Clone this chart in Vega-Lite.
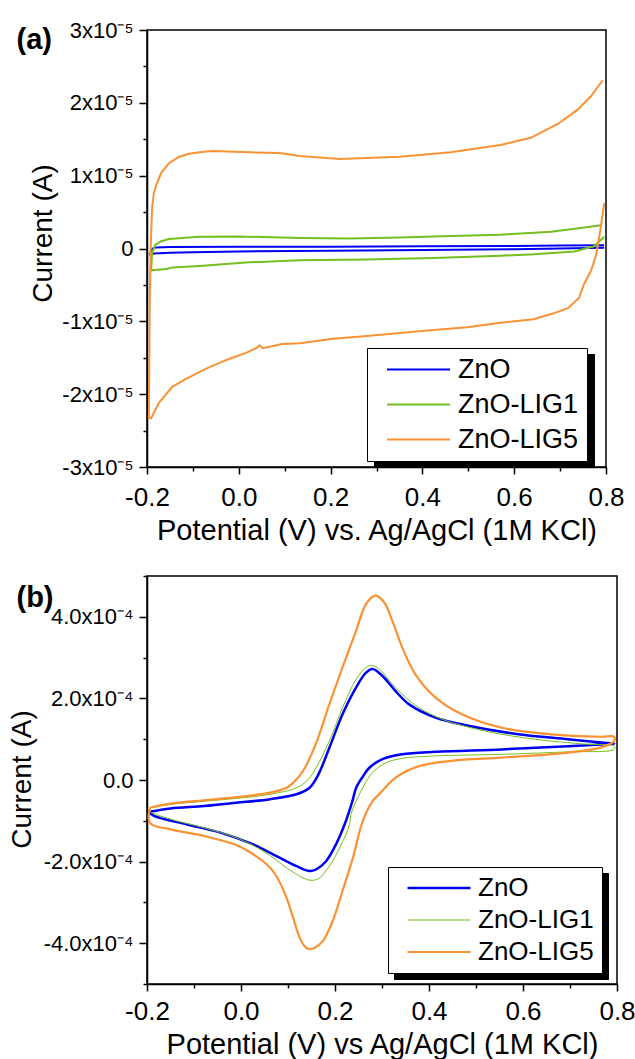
{
  "$schema": "https://vega.github.io/schema/vega-lite/v6.json",
  "background": "white",
  "padding": {"left": 7, "top": 18, "right": 0, "bottom": 0},
  "bounds": "flush",
  "spacing": 109,
  "datasets": {
    "panelA": [
      {"series": "ZnO", "n": 1, "potential": 0.796, "current": 1.0e-7},
      {"series": "ZnO", "n": 2, "potential": 0.7, "current": 0},
      {"series": "ZnO", "n": 3, "potential": 0.6, "current": -1.0e-7},
      {"series": "ZnO", "n": 4, "potential": 0.4, "current": -2.0e-7},
      {"series": "ZnO", "n": 5, "potential": 0.2, "current": -3.0e-7},
      {"series": "ZnO", "n": 6, "potential": 0.0, "current": -4.0e-7},
      {"series": "ZnO", "n": 7, "potential": -0.1, "current": -5.0e-7},
      {"series": "ZnO", "n": 8, "potential": -0.15, "current": -6.0e-7},
      {"series": "ZnO", "n": 9, "potential": -0.185, "current": -7.0e-7},
      {"series": "ZnO", "n": 10, "potential": -0.193, "current": -8.0e-7},
      {"series": "ZnO", "n": 11, "potential": -0.191, "current": -3.0e-7},
      {"series": "ZnO", "n": 12, "potential": -0.188, "current": 0},
      {"series": "ZnO", "n": 13, "potential": -0.18, "current": 1.5e-7},
      {"series": "ZnO", "n": 14, "potential": -0.15, "current": 2.0e-7},
      {"series": "ZnO", "n": 15, "potential": 0.0, "current": 2.5e-7},
      {"series": "ZnO", "n": 16, "potential": 0.2, "current": 2.5e-7},
      {"series": "ZnO", "n": 17, "potential": 0.4, "current": 3.0e-7},
      {"series": "ZnO", "n": 18, "potential": 0.6, "current": 3.5e-7},
      {"series": "ZnO", "n": 19, "potential": 0.7, "current": 4.0e-7},
      {"series": "ZnO", "n": 20, "potential": 0.796, "current": 4.5e-7},

      {"series": "ZnO-LIG1", "n": 1, "potential": 0.796, "current": 1.6e-6},
      {"series": "ZnO-LIG1", "n": 2, "potential": 0.774, "current": 3.0e-7},
      {"series": "ZnO-LIG1", "n": 3, "potential": 0.731, "current": -4.0e-7},
      {"series": "ZnO-LIG1", "n": 4, "potential": 0.643, "current": -8.0e-7},
      {"series": "ZnO-LIG1", "n": 5, "potential": 0.57, "current": -1.0e-6},
      {"series": "ZnO-LIG1", "n": 6, "potential": 0.424, "current": -1.3e-6},
      {"series": "ZnO-LIG1", "n": 7, "potential": 0.279, "current": -1.5e-6},
      {"series": "ZnO-LIG1", "n": 8, "potential": 0.133, "current": -1.6e-6},
      {"series": "ZnO-LIG1", "n": 9, "potential": 0.023, "current": -1.9e-6},
      {"series": "ZnO-LIG1", "n": 10, "potential": -0.086, "current": -2.4e-6},
      {"series": "ZnO-LIG1", "n": 11, "potential": -0.145, "current": -2.6e-6},
      {"series": "ZnO-LIG1", "n": 12, "potential": -0.158, "current": -2.8e-6},
      {"series": "ZnO-LIG1", "n": 13, "potential": -0.191, "current": -3.0e-6},
      {"series": "ZnO-LIG1", "n": 14, "potential": -0.189, "current": -6.0e-7},
      {"series": "ZnO-LIG1", "n": 15, "potential": -0.182, "current": 5.0e-7},
      {"series": "ZnO-LIG1", "n": 16, "potential": -0.169, "current": 1.0e-6},
      {"series": "ZnO-LIG1", "n": 17, "potential": -0.152, "current": 1.3e-6},
      {"series": "ZnO-LIG1", "n": 18, "potential": -0.086, "current": 1.6e-6},
      {"series": "ZnO-LIG1", "n": 19, "potential": 0.001, "current": 1.65e-6},
      {"series": "ZnO-LIG1", "n": 20, "potential": 0.133, "current": 1.45e-6},
      {"series": "ZnO-LIG1", "n": 21, "potential": 0.242, "current": 1.37e-6},
      {"series": "ZnO-LIG1", "n": 22, "potential": 0.351, "current": 1.5e-6},
      {"series": "ZnO-LIG1", "n": 23, "potential": 0.461, "current": 1.7e-6},
      {"series": "ZnO-LIG1", "n": 24, "potential": 0.57, "current": 1.9e-6},
      {"series": "ZnO-LIG1", "n": 25, "potential": 0.68, "current": 2.3e-6},
      {"series": "ZnO-LIG1", "n": 26, "potential": 0.745, "current": 2.8e-6},
      {"series": "ZnO-LIG1", "n": 27, "potential": 0.789, "current": 3.2e-6},

      {"series": "ZnO-LIG5", "n": 1, "potential": 0.796, "current": 6.2e-6},
      {"series": "ZnO-LIG5", "n": 2, "potential": 0.789, "current": 3.1e-6},
      {"series": "ZnO-LIG5", "n": 3, "potential": 0.782, "current": 3.0e-7},
      {"series": "ZnO-LIG5", "n": 4, "potential": 0.778, "current": -1.0e-6},
      {"series": "ZnO-LIG5", "n": 5, "potential": 0.767, "current": -3.1e-6},
      {"series": "ZnO-LIG5", "n": 6, "potential": 0.752, "current": -4.9e-6},
      {"series": "ZnO-LIG5", "n": 7, "potential": 0.741, "current": -6.8e-6},
      {"series": "ZnO-LIG5", "n": 8, "potential": 0.717, "current": -8.2e-6},
      {"series": "ZnO-LIG5", "n": 9, "potential": 0.686, "current": -8.9e-6},
      {"series": "ZnO-LIG5", "n": 10, "potential": 0.642, "current": -9.7e-6},
      {"series": "ZnO-LIG5", "n": 11, "potential": 0.57, "current": -1.02e-5},
      {"series": "ZnO-LIG5", "n": 12, "potential": 0.498, "current": -1.08e-5},
      {"series": "ZnO-LIG5", "n": 13, "potential": 0.424, "current": -1.12e-5},
      {"series": "ZnO-LIG5", "n": 14, "potential": 0.351, "current": -1.16e-5},
      {"series": "ZnO-LIG5", "n": 15, "potential": 0.279, "current": -1.2e-5},
      {"series": "ZnO-LIG5", "n": 16, "potential": 0.205, "current": -1.24e-5},
      {"series": "ZnO-LIG5", "n": 17, "potential": 0.133, "current": -1.3e-5},
      {"series": "ZnO-LIG5", "n": 18, "potential": 0.095, "current": -1.31e-5},
      {"series": "ZnO-LIG5", "n": 19, "potential": 0.052, "current": -1.37e-5},
      {"series": "ZnO-LIG5", "n": 20, "potential": 0.045, "current": -1.33e-5},
      {"series": "ZnO-LIG5", "n": 21, "potential": 0.04, "current": -1.36e-5},
      {"series": "ZnO-LIG5", "n": 22, "potential": 0.017, "current": -1.43e-5},
      {"series": "ZnO-LIG5", "n": 23, "potential": -0.027, "current": -1.53e-5},
      {"series": "ZnO-LIG5", "n": 24, "potential": -0.071, "current": -1.65e-5},
      {"series": "ZnO-LIG5", "n": 25, "potential": -0.115, "current": -1.79e-5},
      {"series": "ZnO-LIG5", "n": 26, "potential": -0.145, "current": -1.9e-5},
      {"series": "ZnO-LIG5", "n": 27, "potential": -0.174, "current": -2.12e-5},
      {"series": "ZnO-LIG5", "n": 28, "potential": -0.191, "current": -2.33e-5},
      {"series": "ZnO-LIG5", "n": 29, "potential": -0.196, "current": -2.33e-5},
      {"series": "ZnO-LIG5", "n": 30, "potential": -0.194, "current": -7.2e-6},
      {"series": "ZnO-LIG5", "n": 31, "potential": -0.192, "current": 0},
      {"series": "ZnO-LIG5", "n": 32, "potential": -0.189, "current": 5.6e-6},
      {"series": "ZnO-LIG5", "n": 33, "potential": -0.185, "current": 7.6e-6},
      {"series": "ZnO-LIG5", "n": 34, "potential": -0.18, "current": 8.7e-6},
      {"series": "ZnO-LIG5", "n": 35, "potential": -0.169, "current": 1.04e-5},
      {"series": "ZnO-LIG5", "n": 36, "potential": -0.152, "current": 1.17e-5},
      {"series": "ZnO-LIG5", "n": 37, "potential": -0.13, "current": 1.26e-5},
      {"series": "ZnO-LIG5", "n": 38, "potential": -0.108, "current": 1.3e-5},
      {"series": "ZnO-LIG5", "n": 39, "potential": -0.086, "current": 1.32e-5},
      {"series": "ZnO-LIG5", "n": 40, "potential": -0.058, "current": 1.34e-5},
      {"series": "ZnO-LIG5", "n": 41, "potential": 0.023, "current": 1.32e-5},
      {"series": "ZnO-LIG5", "n": 42, "potential": 0.089, "current": 1.31e-5},
      {"series": "ZnO-LIG5", "n": 43, "potential": 0.133, "current": 1.27e-5},
      {"series": "ZnO-LIG5", "n": 44, "potential": 0.22, "current": 1.23e-5},
      {"series": "ZnO-LIG5", "n": 45, "potential": 0.351, "current": 1.26e-5},
      {"series": "ZnO-LIG5", "n": 46, "potential": 0.461, "current": 1.32e-5},
      {"series": "ZnO-LIG5", "n": 47, "potential": 0.57, "current": 1.42e-5},
      {"series": "ZnO-LIG5", "n": 48, "potential": 0.636, "current": 1.52e-5},
      {"series": "ZnO-LIG5", "n": 49, "potential": 0.695, "current": 1.71e-5},
      {"series": "ZnO-LIG5", "n": 50, "potential": 0.739, "current": 1.91e-5},
      {"series": "ZnO-LIG5", "n": 51, "potential": 0.767, "current": 2.09e-5},
      {"series": "ZnO-LIG5", "n": 52, "potential": 0.793, "current": 2.31e-5}
    ],
    "panelB": [
      {"series": "ZnO", "n": 1, "potential": -0.194, "current": -7.8e-5},
      {"series": "ZnO", "n": 2, "potential": -0.15, "current": -7.0e-5},
      {"series": "ZnO", "n": 3, "potential": -0.079, "current": -6.4e-5},
      {"series": "ZnO", "n": 4, "potential": -0.01, "current": -5.6e-5},
      {"series": "ZnO", "n": 5, "potential": 0.062, "current": -4.7e-5},
      {"series": "ZnO", "n": 6, "potential": 0.118, "current": -3.5e-5},
      {"series": "ZnO", "n": 7, "potential": 0.146, "current": -1.9e-5},
      {"series": "ZnO", "n": 8, "potential": 0.164, "current": 1.2e-5},
      {"series": "ZnO", "n": 9, "potential": 0.188, "current": 7.9e-5},
      {"series": "ZnO", "n": 10, "potential": 0.216, "current": 1.61e-4},
      {"series": "ZnO", "n": 11, "potential": 0.245, "current": 2.27e-4},
      {"series": "ZnO", "n": 12, "potential": 0.266, "current": 2.63e-4},
      {"series": "ZnO", "n": 13, "potential": 0.28, "current": 2.72e-4},
      {"series": "ZnO", "n": 14, "potential": 0.301, "current": 2.55e-4},
      {"series": "ZnO", "n": 15, "potential": 0.329, "current": 2.18e-4},
      {"series": "ZnO", "n": 16, "potential": 0.357, "current": 1.86e-4},
      {"series": "ZnO", "n": 17, "potential": 0.414, "current": 1.53e-4},
      {"series": "ZnO", "n": 18, "potential": 0.484, "current": 1.33e-4},
      {"series": "ZnO", "n": 19, "potential": 0.59, "current": 1.12e-4},
      {"series": "ZnO", "n": 20, "potential": 0.696, "current": 1.0e-4},
      {"series": "ZnO", "n": 21, "potential": 0.766, "current": 9.2e-5},
      {"series": "ZnO", "n": 22, "potential": 0.794, "current": 8.9e-5},
      {"series": "ZnO", "n": 23, "potential": 0.766, "current": 8.7e-5},
      {"series": "ZnO", "n": 24, "potential": 0.696, "current": 8.3e-5},
      {"series": "ZnO", "n": 25, "potential": 0.555, "current": 7.5e-5},
      {"series": "ZnO", "n": 26, "potential": 0.414, "current": 6.9e-5},
      {"series": "ZnO", "n": 27, "potential": 0.343, "current": 6.3e-5},
      {"series": "ZnO", "n": 28, "potential": 0.301, "current": 5.1e-5},
      {"series": "ZnO", "n": 29, "potential": 0.273, "current": 3.0e-5},
      {"series": "ZnO", "n": 30, "potential": 0.259, "current": 8.0e-6},
      {"series": "ZnO", "n": 31, "potential": 0.245, "current": -1.9e-5},
      {"series": "ZnO", "n": 32, "potential": 0.237, "current": -5.2e-5},
      {"series": "ZnO", "n": 33, "potential": 0.223, "current": -1.01e-4},
      {"series": "ZnO", "n": 34, "potential": 0.202, "current": -1.58e-4},
      {"series": "ZnO", "n": 35, "potential": 0.181, "current": -1.99e-4},
      {"series": "ZnO", "n": 36, "potential": 0.16, "current": -2.19e-4},
      {"series": "ZnO", "n": 37, "potential": 0.146, "current": -2.23e-4},
      {"series": "ZnO", "n": 38, "potential": 0.118, "current": -2.11e-4},
      {"series": "ZnO", "n": 39, "potential": 0.083, "current": -1.91e-4},
      {"series": "ZnO", "n": 40, "potential": 0.026, "current": -1.58e-4},
      {"series": "ZnO", "n": 41, "potential": -0.044, "current": -1.29e-4},
      {"series": "ZnO", "n": 42, "potential": -0.115, "current": -1.09e-4},
      {"series": "ZnO", "n": 43, "potential": -0.185, "current": -8.8e-5},
      {"series": "ZnO", "n": 44, "potential": -0.194, "current": -8.0e-5},
      {"series": "ZnO", "n": 45, "potential": -0.194, "current": -7.8e-5},

      {"series": "ZnO-LIG1", "n": 1, "potential": -0.194, "current": -6.8e-5},
      {"series": "ZnO-LIG1", "n": 2, "potential": -0.15, "current": -6.0e-5},
      {"series": "ZnO-LIG1", "n": 3, "potential": -0.079, "current": -5.2e-5},
      {"series": "ZnO-LIG1", "n": 4, "potential": -0.009, "current": -4.5e-5},
      {"series": "ZnO-LIG1", "n": 5, "potential": 0.062, "current": -3.5e-5},
      {"series": "ZnO-LIG1", "n": 6, "potential": 0.118, "current": -1.9e-5},
      {"series": "ZnO-LIG1", "n": 7, "potential": 0.142, "current": 0},
      {"series": "ZnO-LIG1", "n": 8, "potential": 0.16, "current": 3.0e-5},
      {"series": "ZnO-LIG1", "n": 9, "potential": 0.188, "current": 9.6e-5},
      {"series": "ZnO-LIG1", "n": 10, "potential": 0.216, "current": 1.77e-4},
      {"series": "ZnO-LIG1", "n": 11, "potential": 0.245, "current": 2.47e-4},
      {"series": "ZnO-LIG1", "n": 12, "potential": 0.266, "current": 2.76e-4},
      {"series": "ZnO-LIG1", "n": 13, "potential": 0.276, "current": 2.81e-4},
      {"series": "ZnO-LIG1", "n": 14, "potential": 0.294, "current": 2.72e-4},
      {"series": "ZnO-LIG1", "n": 15, "potential": 0.322, "current": 2.35e-4},
      {"series": "ZnO-LIG1", "n": 16, "potential": 0.343, "current": 2.1e-4},
      {"series": "ZnO-LIG1", "n": 17, "potential": 0.379, "current": 1.77e-4},
      {"series": "ZnO-LIG1", "n": 18, "potential": 0.428, "current": 1.49e-4},
      {"series": "ZnO-LIG1", "n": 19, "potential": 0.519, "current": 1.2e-4},
      {"series": "ZnO-LIG1", "n": 20, "potential": 0.625, "current": 1.0e-4},
      {"series": "ZnO-LIG1", "n": 21, "potential": 0.731, "current": 8.8e-5},
      {"series": "ZnO-LIG1", "n": 22, "potential": 0.794, "current": 8.3e-5},
      {"series": "ZnO-LIG1", "n": 23, "potential": 0.794, "current": 7.5e-5},
      {"series": "ZnO-LIG1", "n": 24, "potential": 0.696, "current": 6.9e-5},
      {"series": "ZnO-LIG1", "n": 25, "potential": 0.555, "current": 6.3e-5},
      {"series": "ZnO-LIG1", "n": 26, "potential": 0.414, "current": 5.9e-5},
      {"series": "ZnO-LIG1", "n": 27, "potential": 0.343, "current": 5.3e-5},
      {"series": "ZnO-LIG1", "n": 28, "potential": 0.308, "current": 4.2e-5},
      {"series": "ZnO-LIG1", "n": 29, "potential": 0.28, "current": 1.8e-5},
      {"series": "ZnO-LIG1", "n": 30, "potential": 0.259, "current": -1.9e-5},
      {"series": "ZnO-LIG1", "n": 31, "potential": 0.234, "current": -8.4e-5},
      {"series": "ZnO-LIG1", "n": 32, "potential": 0.231, "current": -1.09e-4},
      {"series": "ZnO-LIG1", "n": 33, "potential": 0.21, "current": -1.66e-4},
      {"series": "ZnO-LIG1", "n": 34, "potential": 0.188, "current": -2.11e-4},
      {"series": "ZnO-LIG1", "n": 35, "potential": 0.167, "current": -2.4e-4},
      {"series": "ZnO-LIG1", "n": 36, "potential": 0.151, "current": -2.46e-4},
      {"series": "ZnO-LIG1", "n": 37, "potential": 0.132, "current": -2.4e-4},
      {"series": "ZnO-LIG1", "n": 38, "potential": 0.097, "current": -2.15e-4},
      {"series": "ZnO-LIG1", "n": 39, "potential": 0.047, "current": -1.74e-4},
      {"series": "ZnO-LIG1", "n": 40, "potential": -0.009, "current": -1.42e-4},
      {"series": "ZnO-LIG1", "n": 41, "potential": -0.079, "current": -1.17e-4},
      {"series": "ZnO-LIG1", "n": 42, "potential": -0.15, "current": -9.6e-5},
      {"series": "ZnO-LIG1", "n": 43, "potential": -0.194, "current": -7.6e-5},
      {"series": "ZnO-LIG1", "n": 44, "potential": -0.194, "current": -6.8e-5},

      {"series": "ZnO-LIG5", "n": 1, "potential": -0.194, "current": -6.8e-5},
      {"series": "ZnO-LIG5", "n": 2, "potential": -0.15, "current": -5.8e-5},
      {"series": "ZnO-LIG5", "n": 3, "potential": -0.079, "current": -5.0e-5},
      {"series": "ZnO-LIG5", "n": 4, "potential": -0.009, "current": -4.2e-5},
      {"series": "ZnO-LIG5", "n": 5, "potential": 0.062, "current": -3.1e-5},
      {"series": "ZnO-LIG5", "n": 6, "potential": 0.097, "current": -1.9e-5},
      {"series": "ZnO-LIG5", "n": 7, "potential": 0.111, "current": -7.0e-6},
      {"series": "ZnO-LIG5", "n": 8, "potential": 0.132, "current": 2.2e-5},
      {"series": "ZnO-LIG5", "n": 9, "potential": 0.16, "current": 9.1e-5},
      {"series": "ZnO-LIG5", "n": 10, "potential": 0.188, "current": 1.86e-4},
      {"series": "ZnO-LIG5", "n": 11, "potential": 0.216, "current": 2.76e-4},
      {"series": "ZnO-LIG5", "n": 12, "potential": 0.245, "current": 3.66e-4},
      {"series": "ZnO-LIG5", "n": 13, "potential": 0.266, "current": 4.31e-4},
      {"series": "ZnO-LIG5", "n": 14, "potential": 0.286, "current": 4.52e-4},
      {"series": "ZnO-LIG5", "n": 15, "potential": 0.305, "current": 4.35e-4},
      {"series": "ZnO-LIG5", "n": 16, "potential": 0.322, "current": 3.9e-4},
      {"series": "ZnO-LIG5", "n": 17, "potential": 0.343, "current": 3.25e-4},
      {"series": "ZnO-LIG5", "n": 18, "potential": 0.371, "current": 2.59e-4},
      {"series": "ZnO-LIG5", "n": 19, "potential": 0.414, "current": 2.02e-4},
      {"series": "ZnO-LIG5", "n": 20, "potential": 0.47, "current": 1.61e-4},
      {"series": "ZnO-LIG5", "n": 21, "potential": 0.555, "current": 1.28e-4},
      {"series": "ZnO-LIG5", "n": 22, "potential": 0.66, "current": 1.12e-4},
      {"series": "ZnO-LIG5", "n": 23, "potential": 0.766, "current": 1.06e-4},
      {"series": "ZnO-LIG5", "n": 24, "potential": 0.794, "current": 1.06e-4},
      {"series": "ZnO-LIG5", "n": 25, "potential": 0.794, "current": 9.6e-5},
      {"series": "ZnO-LIG5", "n": 26, "potential": 0.766, "current": 8.0e-5},
      {"series": "ZnO-LIG5", "n": 27, "potential": 0.696, "current": 6.7e-5},
      {"series": "ZnO-LIG5", "n": 28, "potential": 0.555, "current": 5.5e-5},
      {"series": "ZnO-LIG5", "n": 29, "potential": 0.449, "current": 4.7e-5},
      {"series": "ZnO-LIG5", "n": 30, "potential": 0.379, "current": 3.4e-5},
      {"series": "ZnO-LIG5", "n": 31, "potential": 0.329, "current": 6.0e-6},
      {"series": "ZnO-LIG5", "n": 32, "potential": 0.294, "current": -3.5e-5},
      {"series": "ZnO-LIG5", "n": 33, "potential": 0.28, "current": -5.2e-5},
      {"series": "ZnO-LIG5", "n": 34, "potential": 0.259, "current": -1.01e-4},
      {"series": "ZnO-LIG5", "n": 35, "potential": 0.238, "current": -1.91e-4},
      {"series": "ZnO-LIG5", "n": 36, "potential": 0.216, "current": -2.72e-4},
      {"series": "ZnO-LIG5", "n": 37, "potential": 0.195, "current": -3.46e-4},
      {"series": "ZnO-LIG5", "n": 38, "potential": 0.174, "current": -3.95e-4},
      {"series": "ZnO-LIG5", "n": 39, "potential": 0.157, "current": -4.11e-4},
      {"series": "ZnO-LIG5", "n": 40, "potential": 0.144, "current": -4.14e-4},
      {"series": "ZnO-LIG5", "n": 41, "potential": 0.136, "current": -4.08e-4},
      {"series": "ZnO-LIG5", "n": 42, "potential": 0.125, "current": -3.87e-4},
      {"series": "ZnO-LIG5", "n": 43, "potential": 0.111, "current": -3.38e-4},
      {"series": "ZnO-LIG5", "n": 44, "potential": 0.097, "current": -2.89e-4},
      {"series": "ZnO-LIG5", "n": 45, "potential": 0.08, "current": -2.45e-4},
      {"series": "ZnO-LIG5", "n": 46, "potential": 0.062, "current": -2.15e-4},
      {"series": "ZnO-LIG5", "n": 47, "potential": 0.026, "current": -1.82e-4},
      {"series": "ZnO-LIG5", "n": 48, "potential": -0.009, "current": -1.6e-4},
      {"series": "ZnO-LIG5", "n": 49, "potential": -0.079, "current": -1.37e-4},
      {"series": "ZnO-LIG5", "n": 50, "potential": -0.15, "current": -1.21e-4},
      {"series": "ZnO-LIG5", "n": 51, "potential": -0.194, "current": -1.05e-4},
      {"series": "ZnO-LIG5", "n": 52, "potential": -0.194, "current": -6.8e-5}
    ]
  },
  "config": {
    "font": "Liberation Sans",
    "view": {"stroke": "black", "strokeWidth": 1.5},
    "axis": {
      "grid": false,
      "domainColor": "black",
      "domainWidth": 1.5,
      "tickColor": "black",
      "tickWidth": 1.5,
      "labelColor": "black",
      "titleColor": "black",
      "labelFont": "Liberation Sans",
      "titleFont": "Liberation Sans",
      "titleFontWeight": "normal",
      "labelFlush": false,
      "labelOverlap": false
    }
  },
  "resolve": {
    "scale": {"color": "independent", "strokeDash": "independent", "strokeWidth": "independent"},
    "legend": {"color": "independent", "strokeDash": "independent", "strokeWidth": "independent"}
  },
  "vconcat": [
    {
      "width": 459,
      "height": 437,
      "data": {"name": "panelA"},
      "layer": [
        {
          "mark": {"type": "line", "strokeWidth": 2, "interpolate": "linear"},
          "encoding": {
            "x": {
              "field": "potential", "type": "quantitative",
              "scale": {"domain": [-0.2, 0.8], "nice": false, "zero": false},
              "axis": {
                "orient": "bottom",
                "values": [-0.2, 0, 0.2, 0.4, 0.6, 0.8],
                "labelExpr": "(datum.value < 0 ? '-' : '') + format(abs(datum.value), '.1f')",
                "labelFontSize": 26, "tickSize": 7, "labelPadding": 10,
                "title": "Potential (V) vs. Ag/AgCl (1M KCl)",
                "titleFontSize": 29, "titleY": 72, "titleBaseline": "alphabetic"
              }
            },
            "y": {
              "field": "current", "type": "quantitative",
              "scale": {"domain": [-3e-5, 3e-5], "nice": false, "zero": false},
              "axis": {
                "orient": "left",
                "values": [-3e-5, -2e-5, -1e-5, 0, 1e-5, 2e-5, 3e-5],
                "labelExpr": "datum.value == 0 ? '0' : (datum.value < 0 ? '-' : '') + format(abs(round(datum.value * 1e5)), 'd') + 'x10⁻⁵'",
                "labelFontSize": 22, "tickSize": 8, "labelPadding": 6,
                "title": "Current (A)",
                "titleFontSize": 28, "titleAngle": 270, "titleX": -104, "titleY": 203,
                "titleBaseline": "middle", "titleAlign": "center"
              }
            },
            "color": {
              "field": "series", "type": "nominal",
              "scale": {"domain": ["ZnO", "ZnO-LIG1", "ZnO-LIG5"], "range": ["#0000F5", "#74BF1C", "#FA9133"]},
              "legend": {
                "orient": "none", "legendX": 220, "legendY": 318, "title": null,
                "symbolType": "M-3,0H3", "symbolSize": 441, "symbolStrokeWidth": 2,
                "symbolOffset": 30, "labelOffset": 26,
                "labelFont": "Liberation Sans", "labelFontSize": 27, "labelColor": "black",
                "padding": 8, "rowPadding": 7,
                "fillColor": "white", "strokeColor": "black", "zindex": 3, "labelLimit": 400
              }
            },
            "order": {"field": "n", "type": "quantitative"}
          }
        },
        {
          "mark": {"type": "line", "strokeWidth": 2, "opacity": 0},
          "encoding": {
            "x": {
              "field": "potential", "type": "quantitative",
              "scale": {"domain": [-0.2, 0.8], "nice": false, "zero": false},
              "axis": {"orient": "bottom", "values": [-0.1, 0.1, 0.3, 0.5, 0.7], "tickSize": 4, "labels": false, "domain": false, "title": null}
            },
            "y": {
              "field": "current", "type": "quantitative",
              "scale": {"domain": [-3e-5, 3e-5], "nice": false, "zero": false},
              "axis": {
                "orient": "left", "values": [-2.5e-5, -1.5e-5, -0.5e-5, 0.5e-5, 1.5e-5, 2.5e-5],
                "tickSize": 4, "labels": false, "domain": false,
                "title": "(a)", "titleAngle": 0, "titleAlign": "left", "titleBaseline": "alphabetic",
                "titleX": -131, "titleY": 18, "titleFontSize": 29, "titleFontWeight": "bold"
              }
            },
            "strokeDash": {
              "field": "series", "type": "nominal",
              "scale": {"range": [[1, 0], [1, 0], [1, 0]]},
              "legend": {
                "orient": "none", "legendX": 227, "legendY": 324, "title": null,
                "values": ["ZnO", "ZnO-LIG1", "ZnO-LIG5"],
                "symbolType": "M-3,0H3", "symbolSize": 441, "symbolStrokeWidth": 2, "symbolStrokeColor": "black",
                "symbolOffset": 30, "labelOffset": 26,
                "labelFont": "Liberation Sans", "labelFontSize": 27, "labelColor": "black", "labelOpacity": 0,
                "padding": 8, "rowPadding": 7,
                "fillColor": "black", "strokeColor": "black", "zindex": 2, "labelLimit": 400
              }
            },
            "order": {"field": "n", "type": "quantitative"}
          }
        }
      ],
      "resolve": {"axis": {"x": "independent", "y": "independent"}}
    },
    {
      "width": 470,
      "height": 408,
      "data": {"name": "panelB"},
      "layer": [
        {
          "mark": {"type": "line", "interpolate": "catmull-rom"},
          "encoding": {
            "x": {
              "field": "potential", "type": "quantitative",
              "scale": {"domain": [-0.2, 0.8], "nice": false, "zero": false},
              "axis": {
                "orient": "bottom",
                "values": [-0.2, 0, 0.2, 0.4, 0.6, 0.8],
                "labelExpr": "(datum.value < 0 ? '-' : '') + format(abs(datum.value), '.1f')",
                "labelFontSize": 26, "tickSize": 7, "labelPadding": 7,
                "title": "Potential (V) vs Ag/AgCl (1M KCl)",
                "titleFontSize": 29, "titleY": 69, "titleBaseline": "alphabetic"
              }
            },
            "y": {
              "field": "current", "type": "quantitative",
              "scale": {"domain": [-5e-4, 5e-4], "nice": false, "zero": false},
              "axis": {
                "orient": "left",
                "values": [-4e-4, -2e-4, 0, 2e-4, 4e-4],
                "labelExpr": "datum.value == 0 ? '0.0' : (datum.value < 0 ? '-' : '') + format(abs(datum.value) * 1e4, '.1f') + 'x10⁻⁴'",
                "labelFontSize": 22, "tickSize": 8, "labelPadding": 6,
                "title": "Current (A)",
                "titleFontSize": 28, "titleAngle": 270, "titleX": -125, "titleY": 203,
                "titleBaseline": "middle", "titleAlign": "center"
              }
            },
            "color": {
              "field": "series", "type": "nominal",
              "scale": {"domain": ["ZnO", "ZnO-LIG1", "ZnO-LIG5"], "range": ["#0000F5", "#74BF1C", "#FA9133"]},
              "legend": {
                "orient": "none", "legendX": 241, "legendY": 291, "title": null,
                "symbolType": "M-3,0H3", "symbolSize": 441,
                "symbolOffset": 30, "labelOffset": 26,
                "labelFont": "Liberation Sans", "labelFontSize": 26, "labelColor": "black",
                "padding": 8, "rowPadding": 6,
                "fillColor": "white", "strokeColor": "black", "zindex": 3, "labelLimit": 400
              }
            },
            "strokeWidth": {
              "field": "series", "type": "nominal",
              "scale": {"type": "ordinal", "domain": ["ZnO", "ZnO-LIG1", "ZnO-LIG5"], "range": [2.5, 1, 2.2]},
              "legend": {
                "orient": "none", "legendX": 241, "legendY": 291, "title": null,
                "symbolType": "M-3,0H3", "symbolSize": 441,
                "symbolOffset": 30, "labelOffset": 26,
                "labelFont": "Liberation Sans", "labelFontSize": 26, "labelColor": "black",
                "padding": 8, "rowPadding": 6,
                "fillColor": "white", "strokeColor": "black", "zindex": 3, "labelLimit": 400
              }
            },
            "order": {"field": "n", "type": "quantitative"}
          }
        },
        {
          "mark": {"type": "line", "strokeWidth": 2, "opacity": 0},
          "encoding": {
            "x": {
              "field": "potential", "type": "quantitative",
              "scale": {"domain": [-0.2, 0.8], "nice": false, "zero": false},
              "axis": {"orient": "bottom", "values": [-0.1, 0.1, 0.3, 0.5, 0.7], "tickSize": 4, "labels": false, "domain": false, "title": null}
            },
            "y": {
              "field": "current", "type": "quantitative",
              "scale": {"domain": [-5e-4, 5e-4], "nice": false, "zero": false},
              "axis": {
                "orient": "left", "values": [-5e-4, -3e-4, -1e-4, 1e-4, 3e-4, 5e-4],
                "tickSize": 4, "labels": false, "domain": false,
                "title": "(b)", "titleAngle": 0, "titleAlign": "left", "titleBaseline": "alphabetic",
                "titleX": -131, "titleY": 30, "titleFontSize": 29, "titleFontWeight": "bold"
              }
            },
            "strokeDash": {
              "field": "series", "type": "nominal",
              "scale": {"range": [[1, 0], [1, 0], [1, 0]]},
              "legend": {
                "orient": "none", "legendX": 247, "legendY": 297, "title": null,
                "values": ["ZnO", "ZnO-LIG1", "ZnO-LIG5"],
                "symbolType": "M-3,0H3", "symbolSize": 441, "symbolStrokeWidth": 2, "symbolStrokeColor": "black",
                "symbolOffset": 30, "labelOffset": 26,
                "labelFont": "Liberation Sans", "labelFontSize": 26, "labelColor": "black", "labelOpacity": 0,
                "padding": 8, "rowPadding": 6,
                "fillColor": "black", "strokeColor": "black", "zindex": 2, "labelLimit": 400
              }
            },
            "order": {"field": "n", "type": "quantitative"}
          }
        }
      ],
      "resolve": {"axis": {"x": "independent", "y": "independent"}}
    }
  ]
}
